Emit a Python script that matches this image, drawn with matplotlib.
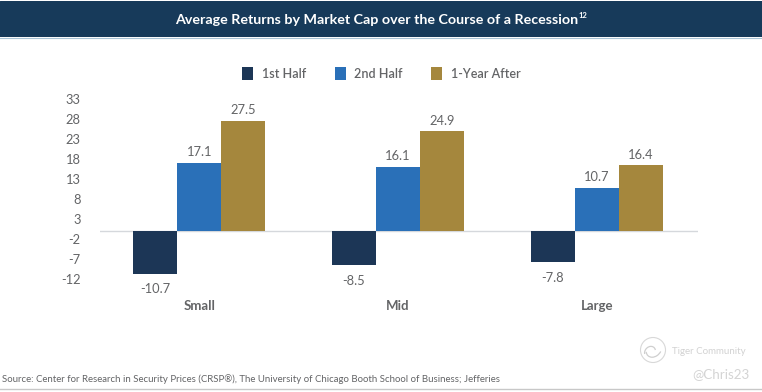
import matplotlib.pyplot as plt
import numpy as np
from matplotlib.patches import Arc, Circle

plt.rcParams['font.family'] = ['Lato', 'DejaVu Sans']
plt.rcParams['axes.unicode_minus'] = False

W, H = 762, 392

categories = ['Small', 'Mid', 'Large']
series_names = ['1st Half', '2nd Half', '1-Year After']
first_half = [-10.7, -8.5, -7.8]
second_half = [17.1, 16.1, 10.7]
year_after = [27.5, 24.9, 16.4]
y_ticks = [33, 28, 23, 18, 13, 8, 3, -2, -7, -12]

NAVY = '#1c3656'
BLUE = '#2a70b8'
GOLD = '#a5873d'
GREY = '#636466'

title = 'Average Returns by Market Cap over the Course of a Recession'
source = ('Source: Center for Research in Security Prices (CRSP®), '
          'The University of Chicago Booth School of Business; Jefferies')

fig = plt.figure(figsize=(W / 100, H / 100), dpi=100, facecolor='white')

# header band
band = fig.add_axes([0, 1 - 37 / H, 1, 36 / H])
band.set_axis_off()
band.add_patch(plt.Rectangle((0, 0), 1, 1, color='#173a5a', transform=band.transAxes))
fig.text(175 / W, 1 - 20 / H, title, color='white', fontsize=10.3, fontweight='bold',
         ha='left', va='center')
fig.text(579 / W, 1 - 16 / H, '12', color='white', fontsize=5.5, fontweight='bold',
         ha='left', va='center')
fig.add_artist(plt.Line2D([0, 1], [1 - 37.5 / H] * 2, color='#a9c3d6', lw=0.8))

# main chart, placed in pixels
ax = fig.add_axes([100 / W, 1 - 279 / H, 598 / W, 180 / H])
x = np.arange(len(categories))
bar_w = 44 / 198.5
series = [first_half, second_half, year_after]
colors = [NAVY, BLUE, GOLD]
for i, (vals, col, name) in enumerate(zip(series, colors, series_names)):
    pos = x + (i - 1) * bar_w
    ax.bar(pos, vals, bar_w, color=col, label=name, zorder=2)
    for p, v in zip(pos, vals):
        off = 1.2 if v > 0 else -2.4
        ax.text(p, v + off, f'{v:.1f}', color=GREY, fontsize=9.3,
                ha='center', va='bottom' if v > 0 else 'top')

ax.set_xlim(-0.5, 2.51)
ax.set_ylim(-12, 33)
ax.axhline(0, color='#d5d8dc', lw=1, zorder=1)
for s in ax.spines.values():
    s.set_visible(False)
ax.set_yticks(y_ticks)
ax.set_xticks(x)
ax.set_xticklabels(categories, fontweight='bold', fontsize=9.5, color=GREY)
ax.tick_params(axis='x', length=0, pad=15)
ax.tick_params(axis='y', length=0, pad=14, labelsize=9.3, labelcolor=GREY)

leg = fig.legend(loc='center', bbox_to_anchor=(381.5 / W, 1 - 73.5 / H), ncol=3, frameon=False,
                 fontsize=9, handlelength=0.87, handleheight=1.2, handletextpad=0.68,
                 columnspacing=2.3, labelcolor=GREY)
for t in leg.get_texts():
    t.set_fontweight('semibold')

fig.text(2 / W, 1 - 379 / H, source, color=GREY, fontsize=6.91, ha='left', va='center')
fig.add_artist(plt.Line2D([0, 1], [1 - 388.5 / H] * 2, color='#c8c8c8', lw=1))

# watermark
wm = fig.add_axes([0, 0, 1, 1], facecolor='none')
wm.set_axis_off()
wm.set_xlim(0, W)
wm.set_ylim(H, 0)
wm.add_patch(Circle((653, 350), 12.5, fill=False, ec='#d8d8d8', lw=0.8))
wm.add_patch(Arc((654, 349), 14, 18, angle=40, theta1=-20, theta2=120, ec='#cfcfcf', lw=0.9))
wm.add_patch(Arc((650, 352), 10, 12, angle=40, theta1=120, theta2=300, ec='#cfcfcf', lw=0.9))
wm.text(672, 351, 'Tiger Community', color='#d2d2d2', fontsize=7, ha='left', va='center')
wm.text(692, 374, '@Chris23', color='#d4d4d4', fontsize=9.6, ha='left', va='center')

fig.savefig('out.png', dpi=100)
